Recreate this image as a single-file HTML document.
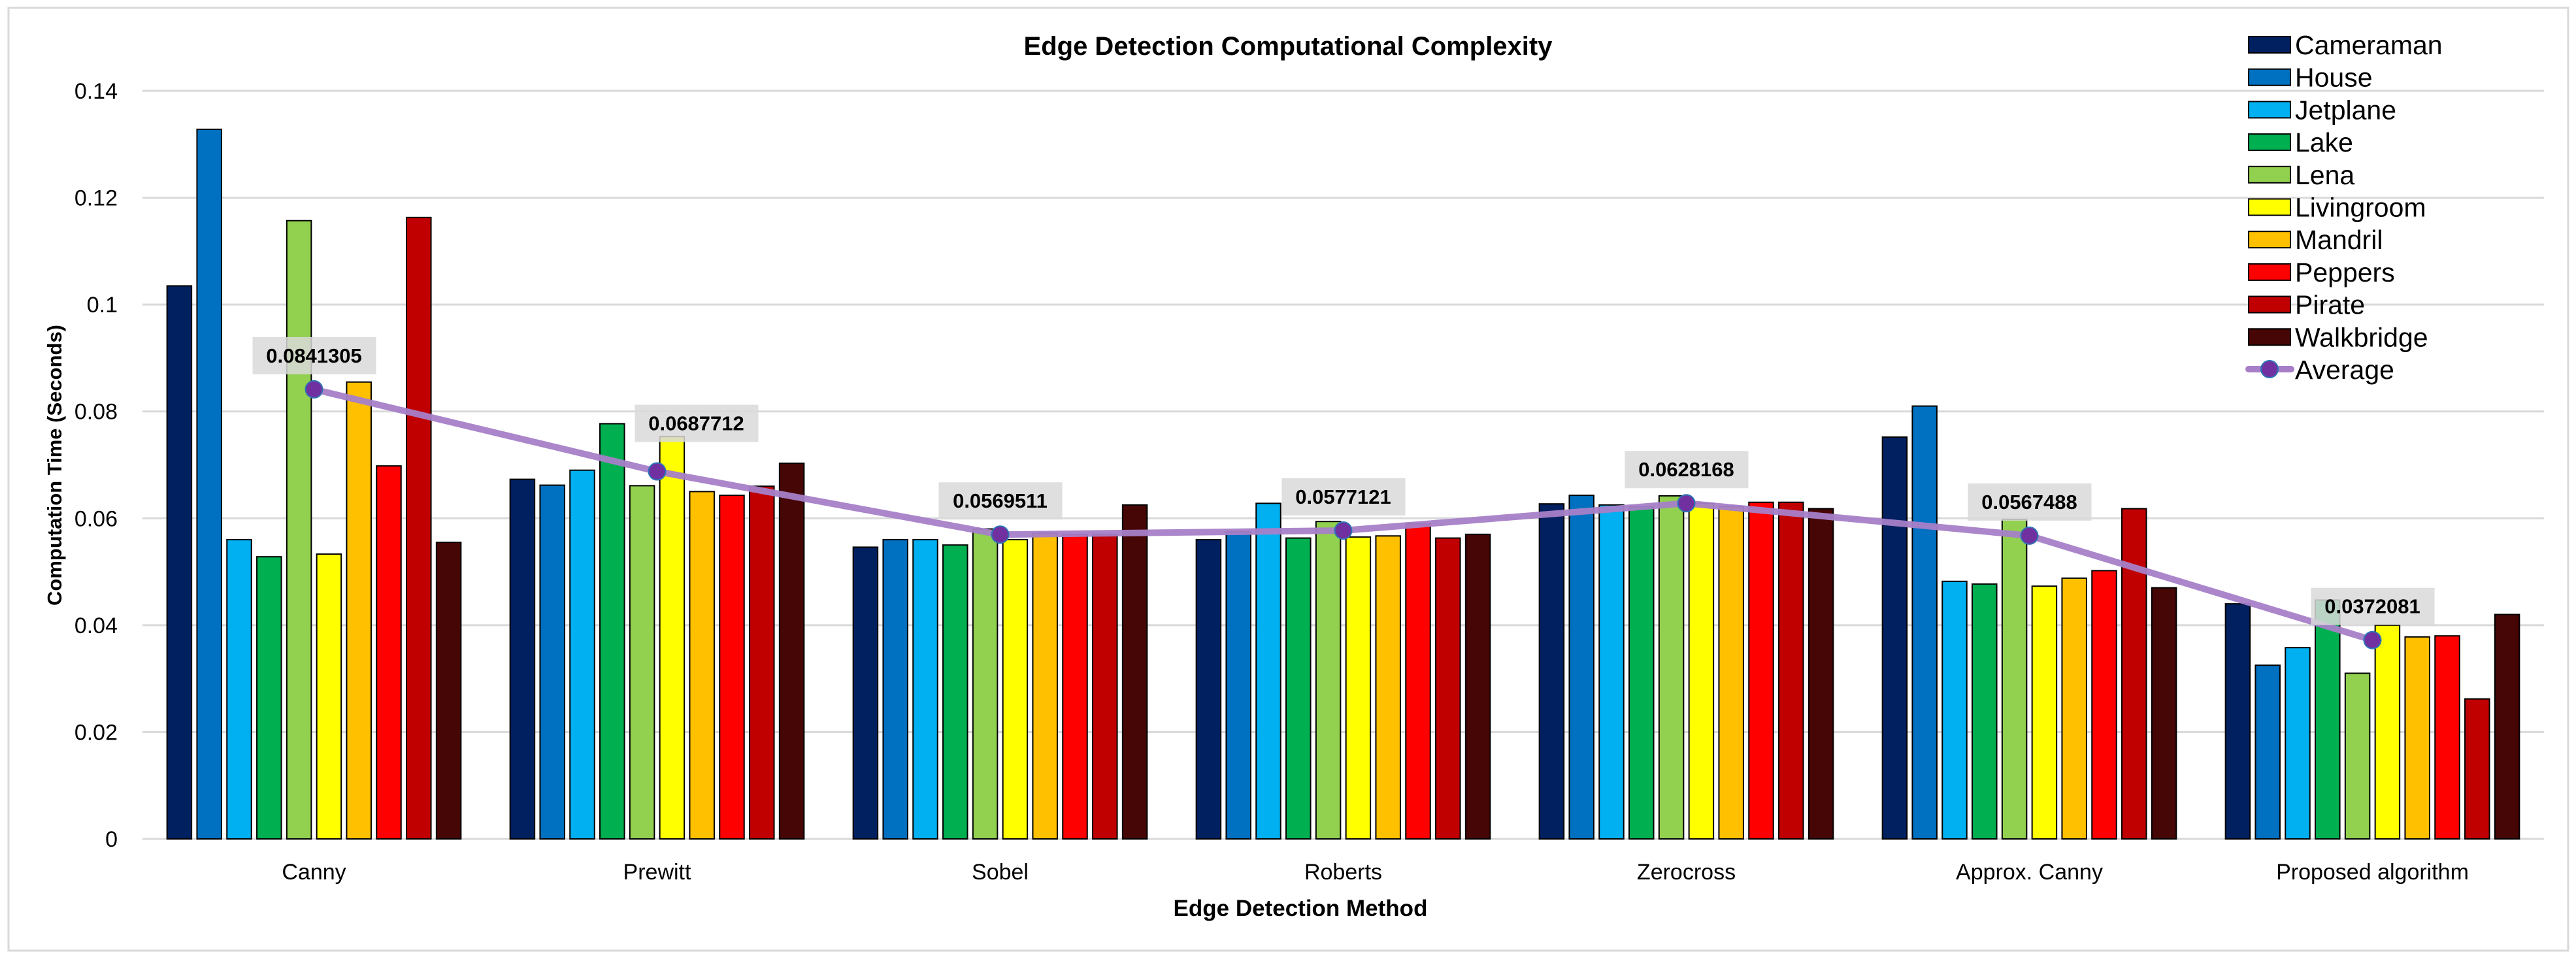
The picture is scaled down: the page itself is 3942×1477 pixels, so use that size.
<!DOCTYPE html>
<html><head><meta charset="utf-8"><style>
body{margin:0;background:#fff;}
svg text{font-family:"Liberation Sans",sans-serif;}
</style></head><body>
<svg id="chart" width="3942" height="1472" viewBox="0 0 3942 1472" xmlns="http://www.w3.org/2000/svg">
<rect x="13" y="12" width="3917" height="1443" fill="#fff" stroke="#d9d9d9" stroke-width="3"/>
<text x="1971" y="84" font-size="40" font-weight="bold" text-anchor="middle">Edge Detection Computational Complexity</text>
<g id="grid"></g>
<g id="ylabels"></g>
<g id="bars"></g>
<g id="xlabels"></g>
<g id="avg"></g>
<text transform="translate(94,712) rotate(-90)" font-size="31" font-weight="bold" text-anchor="middle">Computation Time (Seconds)</text>
<text x="1990" y="1402" font-size="35" font-weight="bold" text-anchor="middle">Edge Detection Method</text>
<g id="legend"></g>
</svg>
<script>
const categories=["Canny","Prewitt","Sobel","Roberts","Zerocross","Approx. Canny","Proposed algorithm"];
const seriesNames=["Cameraman","House","Jetplane","Lake","Lena","Livingroom","Mandril","Peppers","Pirate","Walkbridge"];
const colors=["#002060","#0070c0","#00b0f0","#00b050","#92d050","#ffff00","#ffc000","#ff0000","#c00000","#460606"];
const cameraman=[0.1035,0.0673,0.0546,0.0560,0.0627,0.0752,0.0440];
const house=[0.1328,0.0662,0.0560,0.0575,0.0643,0.0810,0.0325];
const jetplane=[0.0560,0.0690,0.0560,0.0628,0.0625,0.0482,0.0358];
const lake=[0.0528,0.0777,0.0550,0.0563,0.0622,0.0477,0.0447];
const lena=[0.1157,0.0661,0.0580,0.0594,0.0642,0.0598,0.0310];
const livingroom=[0.0533,0.0753,0.0560,0.0565,0.0628,0.0473,0.0400];
const mandril=[0.0855,0.0650,0.0572,0.0567,0.0622,0.0488,0.0378];
const peppers=[0.0698,0.0643,0.0570,0.0590,0.0630,0.0502,0.0380];
const pirate=[0.1163,0.0660,0.0570,0.0563,0.0630,0.0618,0.0262];
const walkbridge=[0.0555,0.0703,0.0625,0.0570,0.0618,0.0470,0.0420];
const average=[0.0841305,0.0687712,0.0569511,0.0577121,0.0628168,0.0567488,0.0372081];
const averageLabels=["0.0841305","0.0687712","0.0569511","0.0577121","0.0628168","0.0567488","0.0372081"];
const yTicks=[0,0.02,0.04,0.06,0.08,0.1,0.12,0.14];
const yTickLabels=["0","0.02","0.04","0.06","0.08","0.1","0.12","0.14"];
const series=[cameraman,house,jetplane,lake,lena,livingroom,mandril,peppers,pirate,walkbridge];

const NS="http://www.w3.org/2000/svg";
const X0=218,X1=3893,Y0=1284,YTOP=139,VMAX=0.14;
const catW=(X1-X0)/categories.length;
function y(v){return Y0-(v/VMAX)*(Y0-YTOP);}
function xc(i){return X0+catW*(i+0.5);}
function mk(tag,attrs,parent){const e=document.createElementNS(NS,tag);for(const k in attrs)e.setAttribute(k,attrs[k]);parent.appendChild(e);return e;}
const grid=document.getElementById('grid'),yl=document.getElementById('ylabels');
yTicks.forEach((t,i)=>{
  const gl=mk('line',{x1:X0,x2:X1,y1:y(t),y2:y(t),stroke:'#d9d9d9','stroke-width':3},grid);
  
  
  const tx=mk('text',{x:180,y:y(t)+12,'font-size':34,'text-anchor':'end'},yl);
  tx.textContent=yTickLabels[i];
  
  
});
const bars=document.getElementById('bars'),xl=document.getElementById('xlabels');
const pitch=45.8,bw=37.5;
categories.forEach((c,i)=>{
  series.forEach((s,j)=>{
    const bx=xc(i)-pitch*4.5+pitch*j-bw/2;
    const r=mk('rect',{x:bx,y:y(s[i]),width:bw,height:Y0-y(s[i]),fill:colors[j],stroke:'#000','stroke-width':2},bars);
    
    
  });
  const t=mk('text',{x:xc(i),y:1346,'font-size':34,'text-anchor':'middle'},xl);
  t.textContent=c;
  
  
});
const avg=document.getElementById('avg');
const pts=average.map((v,i)=>xc(i)+','+y(v)).join(' ');
const pl=mk('polyline',{points:pts,fill:'none',stroke:'#a77fc8','stroke-opacity':0.95,'stroke-width':10,'stroke-linejoin':'round'},avg);


const labelDx=[0,60,0,0,0,0,0];
const labelDy=[52,74,52,52,52,52,52];
average.forEach((v,i)=>{
  const c=mk('circle',{cx:xc(i),cy:y(v),r:13,fill:'#7030a0',stroke:'#2e75b6','stroke-width':2},avg);
  
  
  const cx=xc(i)+labelDx[i],cy=y(v)-labelDy[i];
  const b=mk('rect',{x:cx-94,y:cy-28,width:189,height:57,fill:'#d9d9d9','fill-opacity':0.85},avg);
  
  
  const t=mk('text',{x:cx,y:cy+11,'font-size':31,'font-weight':'bold','text-anchor':'middle'},avg);
  t.textContent=averageLabels[i];
  
  
});
const lg=document.getElementById('legend');
seriesNames.forEach((n,j)=>{
  const cy=68+49.7*j;
  const r=mk('rect',{x:3441,y:cy-12,width:64,height:25,fill:colors[j],stroke:'#000','stroke-width':2},lg);
  
  
  const t=mk('text',{x:3512,y:cy+15,'font-size':41},lg);
  t.textContent=n;
  
  
});
const ay=68+49.7*10;
const ll=mk('line',{x1:3441,x2:3506,y1:ay,y2:ay,stroke:'#a77fc8','stroke-width':10,'stroke-linecap':'round'},lg);


const lc=mk('circle',{cx:3473,cy:ay,r:13,fill:'#7030a0',stroke:'#2e75b6','stroke-width':2},lg);


const lt=mk('text',{x:3512,y:ay+15,'font-size':41},lg);
lt.textContent='Average';


</script>
</body></html>
